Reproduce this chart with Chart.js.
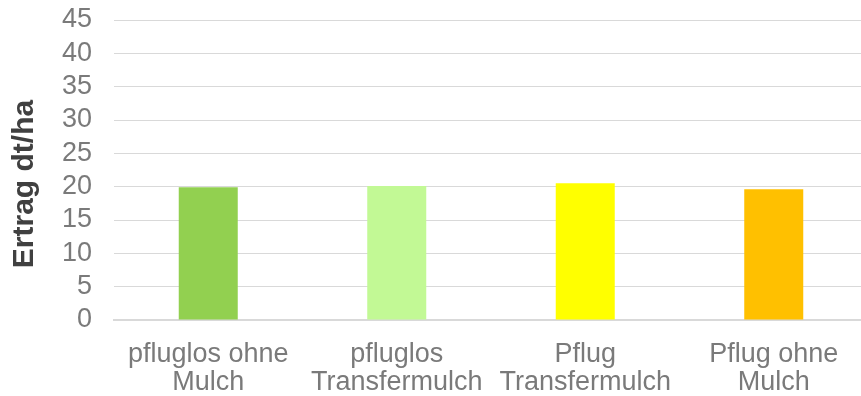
<!DOCTYPE html>
<html>
<head>
<meta charset="utf-8">
<script src="https://cdn.jsdelivr.net/npm/chart.js@4"></script>
<style>
  html, body { margin: 0; padding: 0; background: #ffffff; overflow: hidden; }
  #wrap { width: 868px; height: 396px; position: relative; }
</style>
</head>
<body>
<div id="wrap"><canvas id="chart"></canvas></div>
<script>
// Yield per tillage / mulch variant
const categories = [
  ["pfluglos ohne", "Mulch"],
  ["pfluglos", "Transfermulch"],
  ["Pflug", "Transfermulch"],
  ["Pflug ohne", "Mulch"]
];
const yieldValues = [19.9, 20.1, 20.5, 19.6];
const barColors = ["#92D050", "#C2F995", "#FFFF00", "#FFC000"];
const yTicks = [0, 5, 10, 15, 20, 25, 30, 35, 40, 45];
const yTitle = "Ertrag dt/ha";

const FONT = "'Liberation Sans', Arial, sans-serif";

// Vertical axis title, drawn beside the value axis and centred a little
// below the middle of the plot area.
const axisTitle = {
  id: "axisTitle",
  afterDraw(chart) {
    const s = chart.scales.y;
    const ctx = chart.ctx;
    ctx.save();
    ctx.translate(33, (s.top + s.bottom) / 2 + 14);
    ctx.rotate(-Math.PI / 2);
    ctx.font = "bold 30px " + FONT;
    ctx.fillStyle = "#404040";
    ctx.textAlign = "center";
    ctx.textBaseline = "alphabetic";
    ctx.fillText(yTitle, 0, 0);
    ctx.restore();
  }
};

new Chart(document.getElementById("chart"), {
  type: "bar",
  data: {
    labels: categories,
    datasets: [{
      data: yieldValues,
      backgroundColor: barColors,
      borderWidth: 0,
      categoryPercentage: 1.0,
      barPercentage: 0.313
    }]
  },
  options: {
    responsive: true,
    maintainAspectRatio: false,
    animation: false,
    layout: { padding: { top: 20, right: 0, left: 0, bottom: 0 } },
    plugins: {
      legend: { display: false },
      tooltip: { enabled: false }
    },
    scales: {
      x: {
        grid: { display: false, drawTicks: false },
        border: { display: true, color: "#D9D9D9", width: 2 },
        ticks: {
          color: "#7A7A7A",
          font: { family: FONT, size: 27, lineHeight: 1.02 },
          padding: 21,
          maxRotation: 0,
          autoSkip: false
        },
        afterFit(scale) {
          scale.height = 76;
          scale.paddingLeft = 0;
          scale.paddingRight = 0;
        }
      },
      y: {
        min: 0,
        max: 45,
        afterBuildTicks(scale) { scale.ticks = yTicks.map(v => ({ value: v })); },
        grid: { color: "#D9D9D9", lineWidth: 1, drawTicks: false },
        border: { display: false },
        ticks: {
          color: "#7A7A7A",
          font: { family: FONT, size: 27 },
          padding: 22,
          autoSkip: false
        },
        afterFit(scale) {
          scale.width = 114;
          scale.paddingTop = 0;
          scale.paddingBottom = 0;
        }
      }
    }
  },
  plugins: [axisTitle]
});
</script>
</body>
</html>
